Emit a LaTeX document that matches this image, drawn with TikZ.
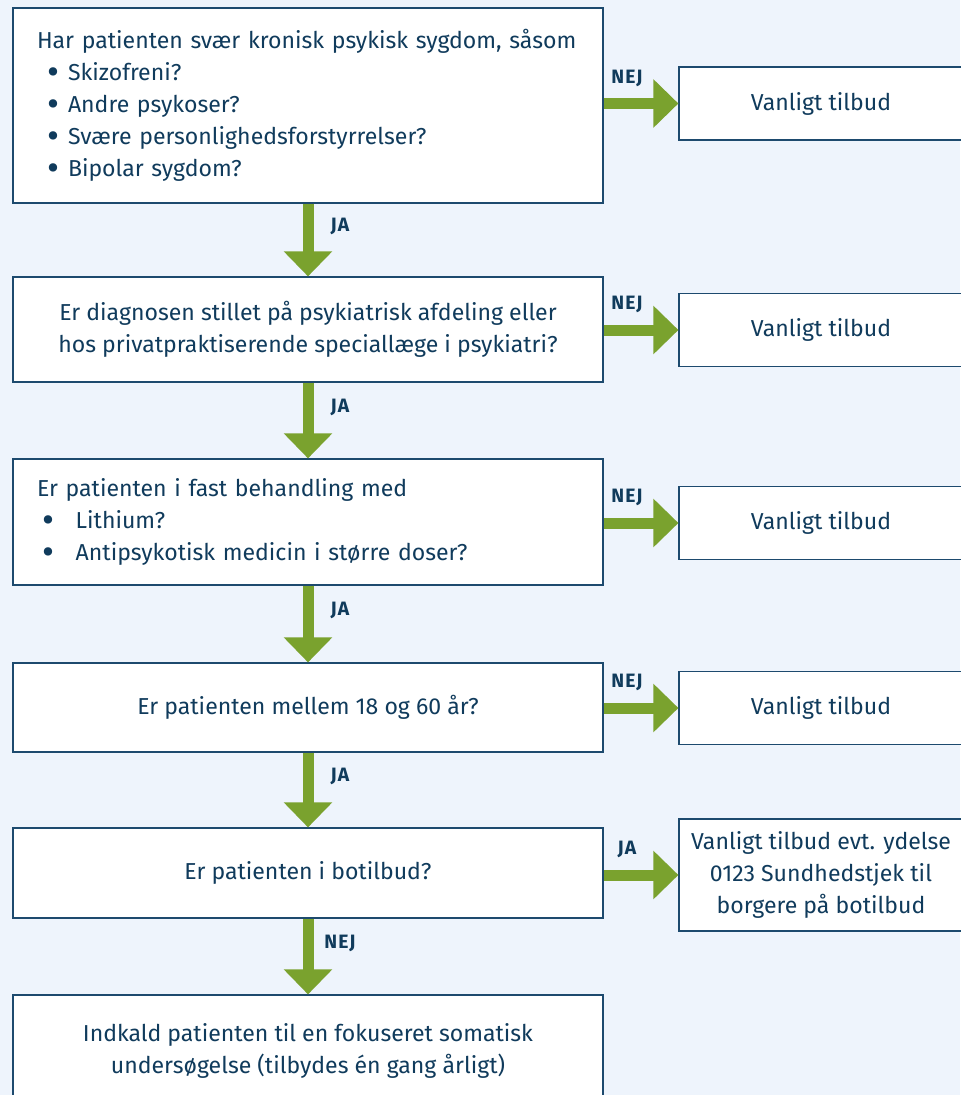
\documentclass[tikz,border=0pt]{standalone}
\usepackage{fontspec}
\setmainfont{Fira Sans}
\usetikzlibrary{arrows.meta,calc}
\definecolor{bgblue}{HTML}{EEF4FC}
\definecolor{lineblue}{HTML}{1D4A6E}
\definecolor{textblue}{HTML}{103B5C}
\definecolor{arrowgreen}{HTML}{7AA22E}
\newcommand\bul[1][8pt]{\hspace*{#1}\makebox[\dimexpr23.25pt-#1\relax][l]{\smash{\raisebox{-0.3ex}{\scalebox{1.6}{\textbullet}}}}}

\tikzset{
	qbox/.style={draw=lineblue, fill=white, line width=0.9pt, text=textblue, inner sep=0pt,
		minimum width=442.5pt, align=center, font=\fontsize{17.3}{24}\selectfont},
	qlist/.style={qbox, align=left, text width=406.5pt, inner xsep=18pt},
	rbox/.style={qbox, minimum width=213pt, minimum height=54.75pt},
	grarrow/.style={draw=arrowgreen, line width=8.25pt, -{Triangle[length=18.75pt,width=35.25pt]}},
	lbl/.style={text=textblue, inner sep=0pt, font=\fontsize{14.5}{15}\selectfont\bfseries\addfontfeature{LetterSpace=6}},
	downlbl/.style={lbl, xshift=24pt, yshift=10pt},
	sidelbl/.style={lbl, xshift=-10.5pt, yshift=19pt}
}

\begin{document}
\begin{tikzpicture}[x=0.75pt, y=-0.75pt]
		%%%%% START %%%%%
		\fill[bgblue] (0, 0) rectangle (960, 1095);
		\useasboundingbox (0, 0) rectangle (960, 1095);
		
		% questions
		\node[qlist, minimum height=146.25pt] (q1) at (308, 105.5) {Har patienten svær kronisk psykisk sygdom, såsom\\
			\bul Skizofreni?\\ \bul Andre psykoser?\\ \bul Svære personlighedsforstyrrelser?\\ \bul Bipolar sygdom?};
		\node[qbox, minimum height=78.75pt] (q2) at (308, 329.5) {Er diagnosen stillet på psykiatrisk afdeling eller\\hos privatpraktiserende speciallæge i psykiatri?};
		\node[qlist, minimum height=94.5pt] (q3) at (308, 522) {Er patienten i fast behandling med\\
			\bul[4pt] Lithium?\\ \bul[4pt] Antipsykotisk medicin i større doser?};
		\node[qbox, minimum height=66.75pt] (q4) at (308, 707.5) {Er patienten mellem 18 og 60 år?};
		\node[qbox, minimum height=67.5pt] (q5) at (308, 873) {Er patienten i botilbud?};
		\node[qbox, minimum height=84pt] (q6) at (308, 1051) {Indkald patienten til en fokuseret somatisk\\undersøgelse (tilbydes én gang årligt)};
		
		% answers
		\node[rbox] (r1) at (821, 103.5) {Vanligt tilbud};
		\node[rbox] (r2) at (821, 330) {Vanligt tilbud};
		\node[rbox] (r3) at (821, 523) {Vanligt tilbud};
		\node[rbox] (r4) at (821, 708) {Vanligt tilbud};
		\node[rbox, minimum height=84pt] (r5) at (821, 875) {Vanligt tilbud evt. ydelse\\0123 Sundhedstjek til\\borgere på botilbud};
		
		% arrows down
		\draw[grarrow] (q1.south) -- node[downlbl] (d1) {JA} (q2.north);
		\draw[grarrow] (q2.south) -- node[downlbl] (d2) {JA} (q3.north);
		\draw[grarrow] (q3.south) -- node[downlbl] (d3) {JA} (q4.north);
		\draw[grarrow] (q4.south) -- node[downlbl] (d4) {JA} (q5.north);
		\draw[grarrow] (q5.south) -- node[downlbl] (d5) {NEJ} (q6.north);
		
		% arrows right
		\draw[grarrow] (q1.east |- r1.center) -- node[sidelbl] (s1) {NEJ} (r1.west);
		\draw[grarrow] (q2.east |- r2.center) -- node[sidelbl] (s2) {NEJ} (r2.west);
		\draw[grarrow] (q3.east |- r3.center) -- node[sidelbl] (s3) {NEJ} (r3.west);
		\draw[grarrow] (q4.east |- r4.center) -- node[sidelbl] (s4) {NEJ} (r4.west);
		\draw[grarrow] (q5.east |- r5.center) -- node[sidelbl] (s5) {JA} (r5.west);
		%%%%% END %%%%%
	\end{tikzpicture}
\end{document}
